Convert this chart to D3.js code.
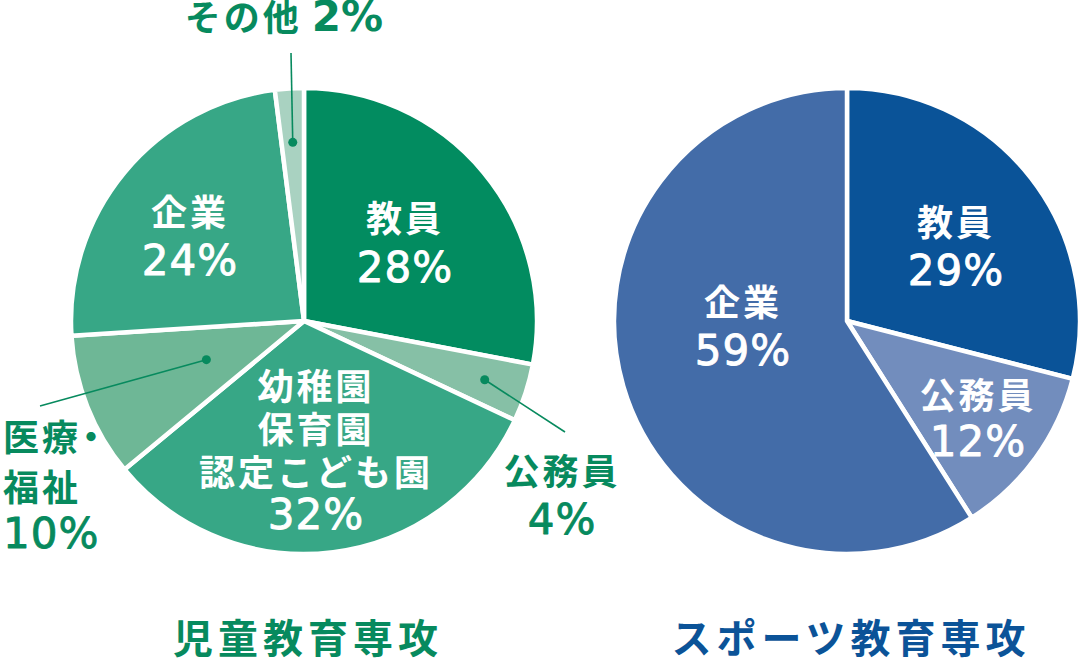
<!DOCTYPE html>
<html>
<head>
<meta charset="utf-8">
<script src="https://cdn.jsdelivr.net/npm/d3@7/dist/d3.min.js"></script>
<style>
  html, body { margin: 0; padding: 0; background: #ffffff; }
  svg { display: block; }
</style>
</head>
<body>
<svg id="chart" width="1082" height="665"></svg>
<script>
// ---------------- data ----------------
const leftTitle = "児童教育専攻";
const leftCategories = ["教員", "公務員", "幼稚園・保育園・認定こども園", "医療・福祉", "企業", "その他"];
const leftValues = [28, 4, 32, 10, 24, 2];
const leftLabelLines = [["教員"], ["公務員"], ["幼稚園", "保育園", "認定こども園"], ["医療・", "福祉"], ["企業"], ["その他"]];

const rightTitle = "スポーツ教育専攻";
const rightCategories = ["教員", "公務員", "企業"];
const rightValues = [29, 12, 59];
const rightLabelLines = [["教員"], ["公務員"], ["企業"]];

// ---------------- styles / layout ----------------
const leftColors = ["#028c60", "#86c0a6", "#37a786", "#6eb796", "#37a786", "#a9d2c1"];
const rightColors = ["#0a5398", "#728dbd", "#436ca8"];
const green = "#078a5e";
const blue = "#0b5398";
const R = 231;
const JP = "'Noto Sans CJK JP', sans-serif";
const NUM = "'DejaVu Sans', sans-serif";
const jpSize = 36, numSize = 42;

// label layout: [dx, dy] of first line ink-centre relative to pie centre, gaps between lines, anchor, outside leader
const leftLayout = [
  { dx: 101, dy: -103, gaps: [49], anchor: "middle", inside: true },
  { dx: 258, dy: 150, gaps: [48], anchor: "middle", inside: false, dotR: 190, lineEnd: [261, 111] },
  { dx: 12, dy: 65, gaps: [43, 43, 42], anchor: "middle", inside: true },
  { dx: -301, dy: 116, gaps: [50, 46], anchor: "start", inside: false, dotR: 105, lineEnd: [-264, 85] },
  { dx: -114, dy: -109, gaps: [48], anchor: "middle", inside: true },
  { dx: -20, dy: -304, gaps: [], anchor: "middle", inside: false, dotR: 179, lineEnd: [-13, -268], inline: true }
];
const rightLayout = [
  { dx: 109, dy: -99, gaps: [48], anchor: "middle", inside: true },
  { dx: 131, dy: 74, gaps: [46], anchor: "middle", inside: true },
  { dx: -104, dy: -19, gaps: [48], anchor: "middle", inside: true }
];

const svg = d3.select("#chart");

function addJpText(sel, txt) {
  // keep the trailing middle dot tight against the previous character
  if (txt.endsWith("・")) {
    sel.append("tspan").text(txt.slice(0, -1));
    sel.append("tspan").attr("dx", -8).text("・");
  } else {
    sel.text(txt);
  }
}

function drawPie(cx, cy, values, colors, lines, layout, textColor, title) {
  const g = svg.append("g").attr("transform", `translate(${cx},${cy})`);
  const pie = d3.pie().sort(null).value(d => d);
  const arcs = pie(values);
  const arc = d3.arc().innerRadius(0).outerRadius(R + 2);

  g.selectAll("path.slice").data(arcs).enter().append("path")
    .attr("class", "slice")
    .attr("d", arc)
    .attr("fill", (d, i) => colors[i])
    .attr("stroke", "#ffffff")
    .attr("stroke-width", 4.5)
    .attr("stroke-linejoin", "round");

  arcs.forEach((a, i) => {
    const L = layout[i];
    const col = L.inside ? "#ffffff" : textColor;
    if (!L.inside) {
      const mid = (a.startAngle + a.endAngle) / 2;
      const p = [Math.sin(mid) * L.dotR, -Math.cos(mid) * L.dotR];
      g.append("line")
        .attr("x1", p[0]).attr("y1", p[1])
        .attr("x2", L.lineEnd[0]).attr("y2", L.lineEnd[1])
        .attr("stroke", textColor).attr("stroke-width", 1.6);
      g.append("circle").attr("cx", p[0]).attr("cy", p[1]).attr("r", 4.5).attr("fill", textColor);
    }
    const pct = values[i] + "%";
    if (L.inline) {
      const t = g.append("text")
        .attr("x", L.dx).attr("y", L.dy + 0.38 * jpSize)
        .attr("text-anchor", L.anchor).attr("fill", col);
      t.append("tspan").attr("font-family", JP).attr("font-weight", 700)
        .attr("font-size", jpSize).attr("letter-spacing", 3).text(lines[i][0]);
      t.append("tspan").attr("font-family", NUM).attr("font-weight", 700)
        .attr("font-size", numSize).attr("dx", 10).text(pct);
      return;
    }
    let y = L.dy;
    const all = lines[i].concat([pct]);
    all.forEach((txt, k) => {
      const isNum = k === all.length - 1;
      const fs = isNum ? numSize : jpSize;
      const base = y + (isNum ? 0.365 : 0.38) * fs;
      const t = g.append("text")
        .attr("x", L.dx).attr("y", base)
        .attr("text-anchor", L.anchor)
        .attr("font-family", isNum ? NUM : JP)
        .attr("font-weight", isNum ? 400 : 700)
        .attr("font-size", fs)
        .attr("letter-spacing", isNum ? 1 : 3)
        .attr("fill", col);
      if (isNum) {
        t.attr("stroke", col).attr("stroke-width", 0.9).attr("stroke-linejoin", "round").text(txt);
      } else {
        addJpText(t, txt);
      }
      if (k < L.gaps.length) y += L.gaps[k];
    });
  });

  svg.append("text")
    .attr("x", cx + 4).attr("y", 653)
    .attr("text-anchor", "middle")
    .attr("font-family", JP).attr("font-weight", 700)
    .attr("font-size", 40).attr("letter-spacing", 5)
    .attr("fill", textColor)
    .text(title);
}

drawPie(304, 321, leftValues, leftColors, leftLabelLines, leftLayout, green, leftTitle);
drawPie(847, 321, rightValues, rightColors, rightLabelLines, rightLayout, blue, rightTitle);
</script>
</body>
</html>
